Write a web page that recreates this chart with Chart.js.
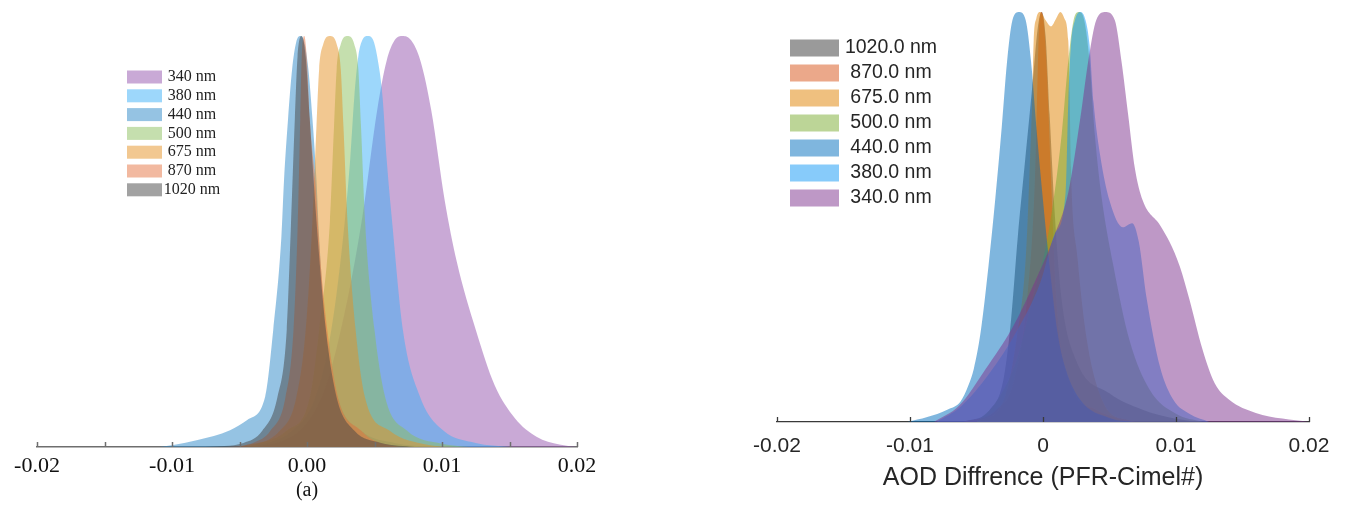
<!DOCTYPE html>
<html>
<head>
<meta charset="utf-8">
<script src="https://cdn.jsdelivr.net/npm/chart.js@4.4.1/dist/chart.umd.min.js"></script>
<style>
  html, body { margin: 0; padding: 0; background: #fff; width: 1345px; height: 513px; overflow: hidden; }
  .panel { position: absolute; top: 0; height: 513px; }
  #left { left: 0; width: 620px; filter: blur(0.5px); }
  #right { left: 700px; width: 645px; filter: blur(0.3px); }
</style>
</head>
<body>
<div class="panel" id="left"><canvas id="cl" width="620" height="513"></canvas></div>
<div class="panel" id="right"><canvas id="cr" width="645" height="513"></canvas></div>
<script>
// ---------- Panel (a): normalised density of AOD difference per wavelength ----------
const aLabels = ['340 nm', '380 nm', '440 nm', '500 nm', '675 nm', '870 nm', '1020 nm'];

const aX340 = [-0.0040, -0.0015, 0.0000, 0.0015, 0.0030, 0.0041, 0.0052, 0.0059, 0.0065, 0.0071, 0.0077, 0.0084, 0.0092, 0.0102, 0.0111, 0.0125, 0.0139, 0.0154, 0.0170, 0.0187, 0.0200];
const aY340 = [0, 0.02, 0.06, 0.16, 0.36, 0.56, 0.82, 0.94, 0.99, 1.00, 0.99, 0.94, 0.82, 0.60, 0.45, 0.285, 0.15, 0.07, 0.025, 0.006, 0];

const aX380 = [-0.0040, -0.0011, 0.0006, 0.0018, 0.0028, 0.0032, 0.0035, 0.0038, 0.0041, 0.0045, 0.0049, 0.0052, 0.0056, 0.0059, 0.0063, 0.0071, 0.0084, 0.0101, 0.0125, 0.0150];
const aY380 = [0, 0.04, 0.12, 0.285, 0.55, 0.70, 0.85, 0.95, 0.99, 1.00, 0.99, 0.95, 0.85, 0.70, 0.55, 0.285, 0.12, 0.04, 0.01, 0];

const aX440 = [-0.0109, -0.0099, -0.0081, -0.0057, -0.0044, -0.0031, -0.0025, -0.0019, -0.0017, -0.0014, -0.0011, -0.0008, -0.0005, -0.0002, 0.0001, 0.0004, 0.0007, 0.0009, 0.0014, 0.0023, 0.0040, 0.0065, 0.0090];
const aY440 = [0, 0.005, 0.017, 0.041, 0.066, 0.122, 0.285, 0.51, 0.65, 0.80, 0.92, 0.985, 1.00, 0.985, 0.92, 0.80, 0.65, 0.51, 0.285, 0.12, 0.04, 0.01, 0];

const aX500 = [-0.0045, -0.0015, 0.0002, 0.0009, 0.0017, 0.0020, 0.0022, 0.0025, 0.0030, 0.0035, 0.0038, 0.0040, 0.0043, 0.0050, 0.0058, 0.0074, 0.0100, 0.0120];
const aY500 = [0, 0.04, 0.12, 0.285, 0.55, 0.78, 0.92, 0.98, 1.00, 0.98, 0.92, 0.78, 0.55, 0.285, 0.12, 0.04, 0.008, 0];

const aX675 = [-0.0050, -0.0020, -0.0008, -0.0001, 0.0004, 0.0007, 0.0009, 0.0012, 0.0017, 0.0022, 0.0025, 0.0027, 0.0030, 0.0036, 0.0043, 0.0061, 0.0090, 0.0110];
const aY675 = [0, 0.04, 0.12, 0.285, 0.55, 0.78, 0.92, 0.98, 1.00, 0.98, 0.92, 0.78, 0.55, 0.285, 0.12, 0.04, 0.005, 0];

const aX870 = [-0.0060, -0.0040, -0.0027, -0.0016, -0.0010, -0.0007, -0.0005, -0.0004, -0.0002, 0.0000, 0.0002, 0.0006, 0.0010, 0.0015, 0.0023, 0.0040, 0.0050, 0.0068];
const aY870 = [0, 0.01, 0.04, 0.12, 0.285, 0.53, 0.80, 0.94, 1.00, 0.94, 0.80, 0.65, 0.45, 0.285, 0.12, 0.04, 0.015, 0];

const aX1020 = [-0.0075, -0.0047, -0.0033, -0.0022, -0.0015, -0.0012, -0.0009, -0.0007, -0.0004, -0.0001, 0.0002, 0.0007, 0.0014, 0.0022, 0.0035, 0.0055, 0.0080];
const aY1020 = [0, 0.01, 0.04, 0.12, 0.285, 0.53, 0.80, 0.95, 1.00, 0.95, 0.80, 0.55, 0.285, 0.12, 0.04, 0.01, 0];

const aTickValues = [-0.02, -0.01, 0, 0.01, 0.02];
const aTickLabels = ['-0.02', '-0.01', '0.00', '0.01', '0.02'];
const aMinorTicks = [-0.02, -0.015, -0.01, -0.005, 0, 0.005, 0.01, 0.015, 0.02];
const aCaption = '(a)';

// ---------- Panel (b): normalised density of AOD difference (PFR - Cimel) ----------
const bLabels = ['1020.0 nm', '870.0 nm', '675.0 nm', '500.0 nm', '440.0 nm', '380.0 nm', '340.0 nm'];

const bX1020 = [-0.0060, -0.0040, -0.0030, -0.0024, -0.0019, -0.0014, -0.0008, -0.0004, -0.0001, 0.0002, 0.0005, 0.0009, 0.0014, 0.0025, 0.0050, 0.0075, 0.0100, 0.0120];
const bY1020 = [0, 0.03, 0.10, 0.25, 0.45, 0.62, 0.82, 0.96, 1.00, 0.94, 0.75, 0.50, 0.30, 0.15, 0.07, 0.03, 0.008, 0];

const bX870 = [-0.0060, -0.0035, -0.0022, -0.0012, -0.0006, -0.0004, -0.0003, -0.0001, 0.0001, 0.0003, 0.0006, 0.0010, 0.0020, 0.0040, 0.0070];
const bY870 = [0, 0.03, 0.10, 0.30, 0.60, 0.85, 0.96, 1.00, 0.96, 0.85, 0.60, 0.30, 0.10, 0.03, 0];

const bX675 = [-0.0050, -0.0030, -0.0020, -0.0013, -0.0010, -0.0008, -0.0007, -0.0005, -0.0002, 0.0002, 0.0006, 0.0010, 0.0013, 0.0016, 0.0019, 0.0020, 0.0021, 0.0026, 0.0033, 0.0045, 0.0060];
const bY675 = [0, 0.05, 0.20, 0.40, 0.62, 0.80, 0.93, 0.985, 1.00, 0.98, 0.965, 0.985, 1.00, 0.985, 0.93, 0.80, 0.62, 0.40, 0.20, 0.05, 0];

const bX500 = [-0.0050, -0.0035, -0.0020, -0.0008, 0.0004, 0.0014, 0.0019, 0.0023, 0.0027, 0.0031, 0.0035, 0.0039, 0.0044, 0.0053, 0.0065, 0.0080, 0.0100, 0.0120];
const bY500 = [0, 0.05, 0.15, 0.30, 0.46, 0.70, 0.88, 0.98, 1.00, 0.98, 0.88, 0.70, 0.55, 0.38, 0.20, 0.08, 0.02, 0];

const bX440 = [-0.0102, -0.0087, -0.0072, -0.0062, -0.0056, -0.0052, -0.0047, -0.0041, -0.0036, -0.0031, -0.0027, -0.0023, -0.0018, -0.0013, -0.0009, -0.0005, 0.0000, 0.0005, 0.0011, 0.0017, 0.0028, 0.0050, 0.0070];
const bY440 = [0, 0.012, 0.03, 0.05, 0.09, 0.13, 0.217, 0.38, 0.54, 0.72, 0.88, 0.98, 1.00, 0.98, 0.88, 0.72, 0.54, 0.38, 0.217, 0.13, 0.054, 0.01, 0];

const bX380 = [-0.0080, -0.0062, -0.0040, -0.0020, -0.0002, 0.0009, 0.0017, 0.0019, 0.0021, 0.0024, 0.0028, 0.0032, 0.0035, 0.0038, 0.0043, 0.0050, 0.0060, 0.0067, 0.0072, 0.0078, 0.0088, 0.0098, 0.0110, 0.0125];
const bY380 = [0, 0.037, 0.12, 0.22, 0.34, 0.46, 0.56, 0.78, 0.92, 0.98, 1.00, 0.98, 0.92, 0.78, 0.65, 0.54, 0.475, 0.485, 0.44, 0.30, 0.134, 0.054, 0.02, 0];

const bX340 = [-0.0082, -0.0063, -0.0043, -0.0023, -0.0005, 0.0008, 0.0019, 0.0028, 0.0034, 0.0040, 0.0047, 0.0054, 0.0059, 0.0064, 0.0069, 0.0075, 0.0088, 0.0095, 0.0103, 0.0110, 0.0120, 0.0129, 0.0140, 0.0160, 0.0200];
const bY340 = [0, 0.04, 0.13, 0.23, 0.35, 0.45, 0.56, 0.74, 0.88, 0.98, 1.00, 0.98, 0.88, 0.75, 0.62, 0.54, 0.48, 0.44, 0.378, 0.30, 0.176, 0.095, 0.054, 0.022, 0];

const bTickValues = [-0.02, -0.01, 0, 0.01, 0.02];
const bTickLabels = ['-0.02', '-0.01', '0', '0.01', '0.02'];
const bAxisTitle = 'AOD Diffrence (PFR-Cimel#)';

// ---------- colours (semi-transparent fills) ----------
const aColors = {
  '340 nm': 'rgba(147, 83, 173, 0.5)',
  '380 nm': 'rgba(59, 175, 247, 0.5)',
  '440 nm': 'rgba(43, 135, 199, 0.5)',
  '500 nm': 'rgba(139, 191, 93, 0.5)',
  '675 nm': 'rgba(229, 145, 35, 0.5)',
  '870 nm': 'rgba(229, 115, 65, 0.5)',
  '1020 nm': 'rgba(70, 70, 70, 0.5)'
};
const bColors = {
  '1020.0 nm': 'rgba(53, 53, 53, 0.5)',
  '870.0 nm': 'rgba(215, 81, 21, 0.5)',
  '675.0 nm': 'rgba(223, 129, 0, 0.5)',
  '500.0 nm': 'rgba(121, 171, 47, 0.5)',
  '440.0 nm': 'rgba(0, 109, 189, 0.5)',
  '380.0 nm': 'rgba(15, 151, 245, 0.5)',
  '340.0 nm': 'rgba(125, 49, 141, 0.5)'
};

function pts(xs, ys) { return xs.map((x, i) => ({ x: x, y: ys[i] })); }

function areaSet(label, xs, ys, color) {
  return {
    label: label,
    data: pts(xs, ys),
    backgroundColor: color,
    borderWidth: 0,
    pointRadius: 0,
    fill: 'origin',
    cubicInterpolationMode: 'monotone',
    clip: false
  };
}

// Legend drawn as coloured boxes with centred labels
const boxLegend = {
  id: 'boxLegend',
  afterDraw(chart, args, o) {
    const ctx = chart.ctx;
    ctx.save();
    ctx.font = o.font;
    ctx.textAlign = 'center';
    ctx.textBaseline = 'middle';
    o.order.forEach((label, i) => {
      const ds = chart.data.datasets.find(d => d.label === label);
      const y = o.y0 + i * o.dy;
      ctx.fillStyle = ds.backgroundColor;
      ctx.fillRect(o.bx, y - o.bh / 2, o.bw, o.bh);
      ctx.fillStyle = o.color;
      ctx.fillText(label, o.tx, y);
    });
    ctx.restore();
  }
};

// Short upward tick marks on the x axis line
const upTicks = {
  id: 'upTicks',
  afterDraw(chart, args, o) {
    const sc = chart.scales.x, ctx = chart.ctx, y = sc.top;
    ctx.save();
    ctx.strokeStyle = o.color;
    ctx.lineWidth = o.width;
    o.values.forEach(v => {
      const px = Math.round(sc.getPixelForValue(v)) + 0.5;
      ctx.beginPath();
      ctx.moveTo(px, y);
      ctx.lineTo(px, y - o.len);
      ctx.stroke();
    });
    ctx.restore();
  }
};

Chart.defaults.animation = false;
Chart.defaults.responsive = false;
Chart.defaults.devicePixelRatio = 1;

// Panel (a): the first dataset is painted last, so 1020 nm ends up on top
const aDatasets = [
  areaSet('1020 nm', aX1020, aY1020, aColors['1020 nm']),
  areaSet('870 nm', aX870, aY870, aColors['870 nm']),
  areaSet('675 nm', aX675, aY675, aColors['675 nm']),
  areaSet('500 nm', aX500, aY500, aColors['500 nm']),
  areaSet('440 nm', aX440, aY440, aColors['440 nm']),
  areaSet('380 nm', aX380, aY380, aColors['380 nm']),
  areaSet('340 nm', aX340, aY340, aColors['340 nm'])
];

new Chart(document.getElementById('cl'), {
  type: 'line',
  data: { datasets: aDatasets },
  options: {
    layout: { padding: { left: 37, right: 43, top: 36, bottom: 0 } },
    plugins: {
      legend: { display: false },
      tooltip: { enabled: false },
      boxLegend: { order: aLabels, font: '16px "Liberation Serif", "Times New Roman", serif', color: '#222',
                   bx: 127, bw: 35, bh: 13, y0: 77, dy: 18.8, tx: 192 },
      upTicks: { values: aMinorTicks, color: '#6e6e6e', width: 1.5, len: 5 }
    },
    scales: {
      x: {
        type: 'linear', min: -0.02, max: 0.02,
        afterBuildTicks: s => { s.ticks = aTickValues.map(v => ({ value: v })); },
        afterFit: s => { s.height = 66; },
        grid: { display: false, drawTicks: false },
        border: { display: true, color: '#6e6e6e', width: 1.5 },
        ticks: {
          autoSkip: false, maxRotation: 0, padding: 6, color: '#111',
          font: { family: '"Liberation Serif", "Times New Roman", serif', size: 22 },
          callback: (v, i) => aTickLabels[i]
        },
        title: {
          display: true, text: aCaption, color: '#111',
          font: { family: '"Liberation Serif", "Times New Roman", serif', size: 20 },
          padding: { top: 0, bottom: 10 }
        }
      },
      y: { type: 'linear', min: 0, max: 1, display: false }
    }
  },
  plugins: [boxLegend, upTicks]
});

// Panel (b): 1020 nm at the bottom, 340 nm on top
const bDatasets = [
  areaSet('340.0 nm', bX340, bY340, bColors['340.0 nm']),
  areaSet('380.0 nm', bX380, bY380, bColors['380.0 nm']),
  areaSet('440.0 nm', bX440, bY440, bColors['440.0 nm']),
  areaSet('500.0 nm', bX500, bY500, bColors['500.0 nm']),
  areaSet('675.0 nm', bX675, bY675, bColors['675.0 nm']),
  areaSet('870.0 nm', bX870, bY870, bColors['870.0 nm']),
  areaSet('1020.0 nm', bX1020, bY1020, bColors['1020.0 nm'])
];

new Chart(document.getElementById('cr'), {
  type: 'line',
  data: { datasets: bDatasets },
  options: {
    layout: { padding: { left: 77, right: 36, top: 12, bottom: 0 } },
    plugins: {
      legend: { display: false },
      tooltip: { enabled: false },
      boxLegend: { order: bLabels, font: '19.5px "Liberation Sans", Arial, sans-serif', color: '#262626',
                   bx: 90, bw: 49, bh: 17, y0: 48, dy: 25, tx: 191 },
      upTicks: { values: bTickValues, color: '#3a3a3a', width: 1.3, len: 5 }
    },
    scales: {
      x: {
        type: 'linear', min: -0.02, max: 0.02,
        afterBuildTicks: s => { s.ticks = bTickValues.map(v => ({ value: v })); },
        afterFit: s => { s.height = 91; },
        grid: { display: false, drawTicks: false },
        border: { display: true, color: '#3a3a3a', width: 1.3 },
        ticks: {
          autoSkip: false, maxRotation: 0, padding: 12, color: '#262626',
          font: { family: '"Liberation Sans", Arial, sans-serif', size: 21 },
          callback: (v, i) => bTickLabels[i]
        },
        title: {
          display: true, text: bAxisTitle, color: '#262626',
          font: { family: '"Liberation Sans", Arial, sans-serif', size: 25 },
          padding: { top: 0, bottom: 20 }
        }
      },
      y: { type: 'linear', min: 0, max: 1, display: false }
    }
  },
  plugins: [boxLegend, upTicks]
});
</script>
</body>
</html>
